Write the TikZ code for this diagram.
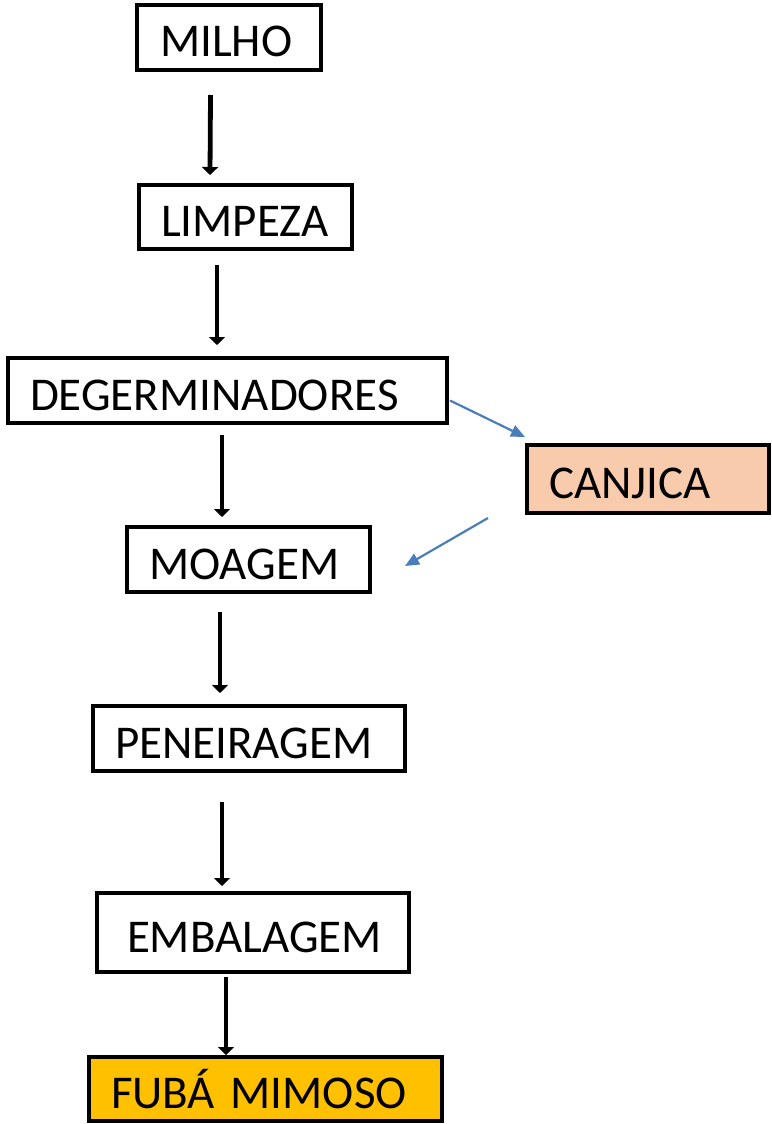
\documentclass[tikz,border=0pt]{standalone}
\usepackage{fontspec}
\setmainfont{Carlito}
\usepackage{tikz}
\usetikzlibrary{arrows.meta}

\definecolor{canjicafill}{HTML}{F8CBAD}
\definecolor{fubafill}{HTML}{FFC000}
\definecolor{sideblue}{HTML}{4A7EBB}

\begin{document}
\begin{tikzpicture}[x=1pt, y=-1pt,
	box/.style={draw, line width=4pt, anchor=north west, outer sep=0pt, inner ysep=0pt,
		inner xsep=22pt, align=left, text height=39pt, text depth=0pt,
		font=\fontsize{47}{56}\selectfont},
	flow/.style={line width=4.8pt, -{Triangle[length=8pt,width=16pt]}},
	side/.style={sideblue, line width=2.2pt, -{Triangle[length=14pt,width=12pt]}}]
	\useasboundingbox (0,0) rectangle (771,1124);
	\node[box, minimum width=183pt, minimum height=65pt, text width=138pt, inner xsep=23pt] (milho) at (137,5) {MILHO};
	\node[box, minimum width=213pt, minimum height=64pt, text width=169pt] (limpeza) at (139,185) {LIMPEZA};
	\node[box, minimum width=439pt, minimum height=65pt, text width=395pt] (degerm) at (8,358) {DEGERMINADORES};
	\node[box, fill=canjicafill, minimum width=242pt, minimum height=68pt, text width=198pt] (canjica) at (527,445) {CANJICA};
	\node[box, minimum width=243pt, minimum height=65pt, text width=199pt] (moagem) at (127,527) {MOAGEM};
	\node[box, minimum width=312pt, minimum height=65pt, text width=268pt] (peneiragem) at (93,706) {PENEIRAGEM};
	\node[box, minimum width=312pt, minimum height=79pt, text width=252pt, inner xsep=30pt] (embalagem) at (97,893) {EMBALAGEM};
	\node[box, fill=fubafill, minimum width=353pt, minimum height=64pt, text width=309pt] (fuba) at (89,1057) {FUBÁ MIMOSO};
	% main line
	\draw[flow] ([xshift=-18.5pt,yshift=-25pt]milho.south) -- ([xshift=-35.5pt,yshift=10pt]limpeza.north);
	\draw[flow] ([xshift=-28.5pt,yshift=-16pt]limpeza.south) -- ([xshift=-10.5pt,yshift=13pt]degerm.north);
	\draw[flow] ([xshift=-5.5pt,yshift=-12pt]degerm.south) -- ([xshift=-26.5pt,yshift=10pt]moagem.north);
	\draw[flow] ([xshift=-28.5pt,yshift=-20pt]moagem.south) -- ([xshift=-29pt,yshift=13pt]peneiragem.north);
	\draw[flow] ([xshift=-27pt,yshift=-31pt]peneiragem.south) -- ([xshift=-31pt,yshift=7pt]embalagem.north);
	\draw[flow] ([xshift=-27pt,yshift=-5pt]embalagem.south) -- ([xshift=-39.5pt,yshift=2pt]fuba.north);
	% canjica branch
	\draw[side] ([xshift=3pt,yshift=-10pt]degerm.east) -- ([xshift=-2pt,yshift=8pt]canjica.north west);
	\draw[side] ([xshift=-39pt,yshift=-5pt]canjica.south west) -- ([xshift=35pt,yshift=-6.5pt]moagem.east);
\end{tikzpicture}
\end{document}
